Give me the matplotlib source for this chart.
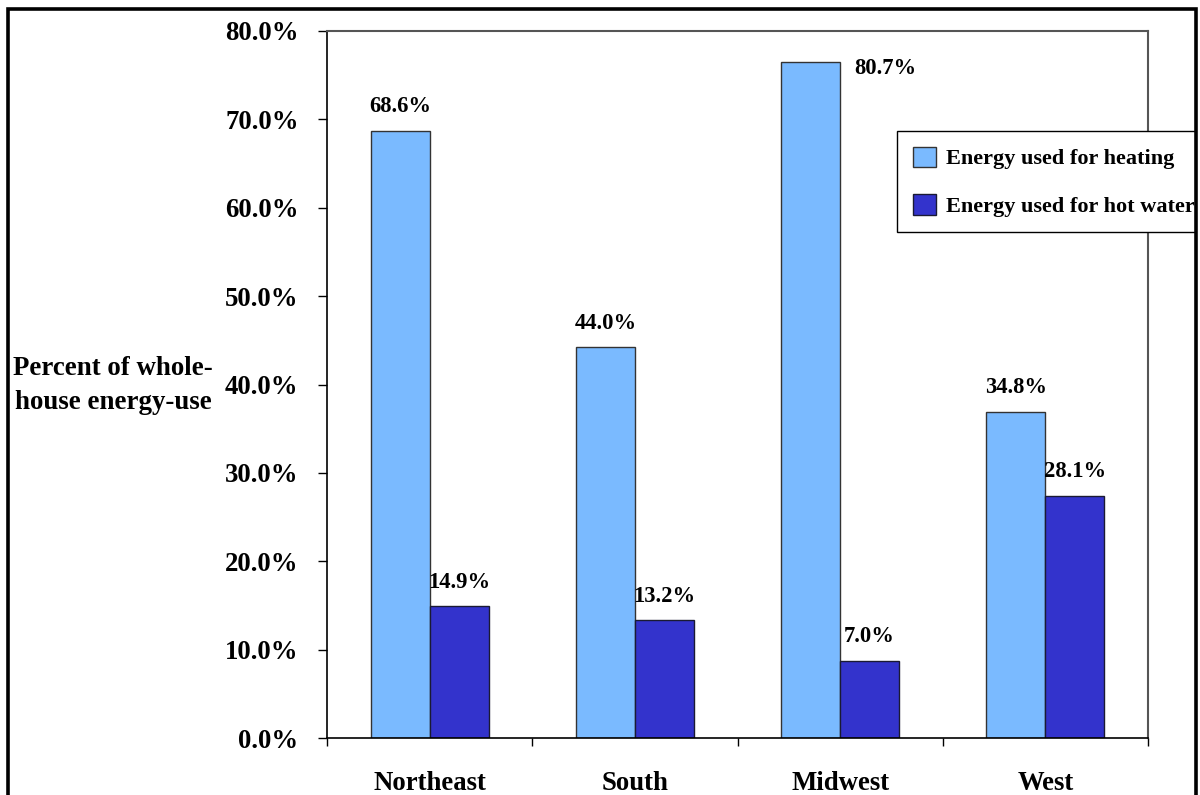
import numpy as np
import matplotlib
matplotlib.use("Agg")
import matplotlib.pyplot as plt
from matplotlib.patches import Rectangle

plt.rcParams['font.family'] = ['Liberation Serif', 'DejaVu Serif']
plt.rcParams['font.weight'] = 'bold'

regions = ["Northeast", "South", "Midwest", "West"]
heating = [68.7, 44.2, 76.5, 36.9]       # bar heights as drawn
hot_water = [14.9, 13.3, 8.7, 27.4]
heating_labels = ["68.6%", "44.0%", "80.7%", "34.8%"]
hot_water_labels = ["14.9%", "13.2%", "7.0%", "28.1%"]
series_names = ["Energy used for heating", "Energy used for hot water"]
yticks = [0, 10, 20, 30, 40, 50, 60, 70, 80]

light = '#7ABAFF'
dark = '#3333CC'

fig = plt.figure(figsize=(12, 7.95), dpi=100)
ax = fig.add_axes([327 / 1200, 57 / 795, (1148 - 327) / 1200, (738 - 31) / 795])

x = np.arange(len(regions))
w = 0.287
b1 = ax.bar(x - w / 2, heating, w, color=light, edgecolor='#333333', linewidth=1, label=series_names[0])
b2 = ax.bar(x + w / 2, hot_water, w, color=dark, edgecolor='#1a1a33', linewidth=1, label=series_names[1])

# value labels above bars (Midwest heating label sits to the right in the original)
for i, (bar, lab) in enumerate(zip(b1, heating_labels)):
    dx, dy = (54, -5) if i == 2 else (0, 17.5)
    ax.annotate(lab, (bar.get_x() + bar.get_width() / 2, bar.get_height()),
                xytext=(dx, dy), textcoords='offset points', ha='center', va='center',
                fontsize=16.3, fontweight='bold')
for bar, lab in zip(b2, hot_water_labels):
    ax.annotate(lab, (bar.get_x() + bar.get_width() / 2, bar.get_height()),
                xytext=(0, 17.5), textcoords='offset points', ha='center', va='center',
                fontsize=16.3, fontweight='bold')

ax.set_xlim(-0.5, len(regions) - 0.5)
ax.set_ylim(0, 80)
ax.set_yticks(yticks)
ax.set_yticklabels([f"{v:.1f}%" for v in yticks], fontsize=19.3, fontweight='bold')
ax.tick_params(axis='y', direction='out', length=6.5, width=1, pad=14)

ax.set_xticks(x)
ax.set_xticklabels(regions, fontsize=19.3, fontweight='bold')
ax.set_xticks(np.arange(len(regions) + 1) - 0.5, minor=True)
ax.tick_params(axis='x', which='major', length=0, pad=24)
ax.tick_params(axis='x', which='minor', direction='out', length=6, width=1)

for s in ['left', 'bottom']:
    ax.spines[s].set_color('black')
    ax.spines[s].set_linewidth(1.2)
for s in ['top', 'right']:
    ax.spines[s].set_color('#555555')
    ax.spines[s].set_linewidth(1.5)

fig.text(113 / 1200, (795 - 385.5) / 795, "Percent of whole-\nhouse energy-use",
         ha='center', va='center', fontsize=19.4, fontweight='bold', linespacing=1.45)

leg = fig.legend(loc='upper left', bbox_to_anchor=(897 / 1200, (795 - 131) / 795),
                 prop={'weight': 'bold', 'size': 16}, frameon=True, fancybox=False,
                 edgecolor='black', borderpad=0.7, handlelength=1.05, handleheight=1.05,
                 handletextpad=0.45, labelspacing=1.1, borderaxespad=0)
leg.get_frame().set_linewidth(1)
leg.get_frame().set_alpha(1)

# outer frame around the whole picture
fig.patches.append(Rectangle((1197 / 1200, 0), 3 / 1200, 1, transform=fig.transFigure,
                             facecolor='white', edgecolor='none', zorder=10))
fig.patches.append(Rectangle((7.5 / 1200, -0.05), (1196 - 7.5) / 1200, (795 - 8.5) / 795 + 0.05,
                             transform=fig.transFigure, fill=False, edgecolor='black',
                             linewidth=2.6, zorder=11))

fig.savefig("out.png", dpi=100)
